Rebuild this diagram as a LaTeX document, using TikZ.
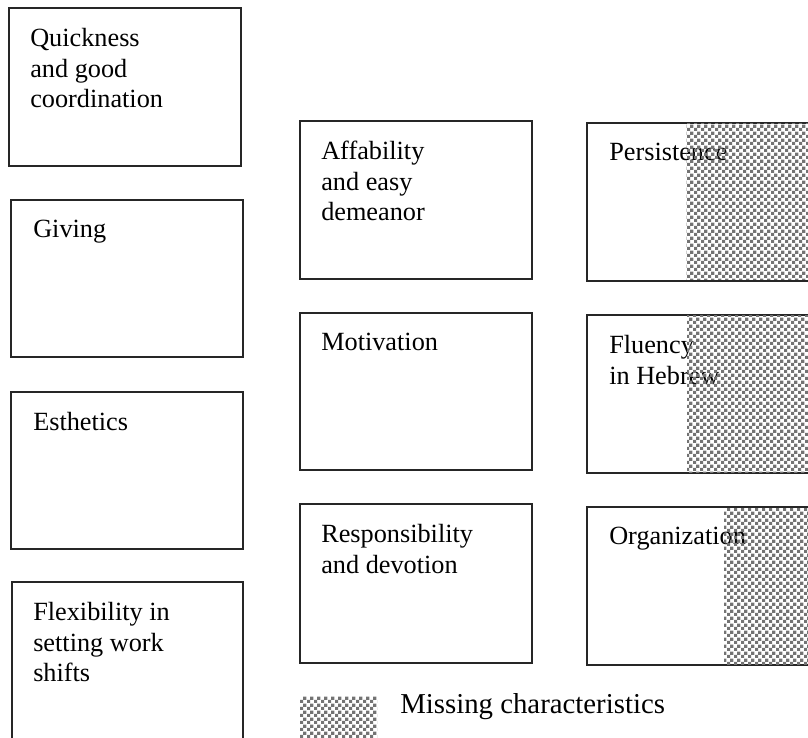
\documentclass[tikz,border=0pt]{standalone}
\usepackage{fontspec}
\setmainfont{Liberation Serif}
\usetikzlibrary{patterns}

\pgfdeclarepatternformonly{missing}{\pgfpointorigin}{\pgfqpoint{5pt}{5pt}}{\pgfqpoint{5pt}{5pt}}{%
	\pgfpathrectangle{\pgfpointorigin}{\pgfqpoint{2.5pt}{2.5pt}}%
	\pgfpathrectangle{\pgfqpoint{2.5pt}{2.5pt}}{\pgfqpoint{2.5pt}{2.5pt}}%
	\pgfusepath{fill}}

\tikzset{
	box/.style={line width=1.4pt, draw=black!85},
	txt/.style={anchor=north west, inner sep=0pt, align=left, font=\fontsize{19.7}{22.9}\selectfont},
	gap/.style={pattern=missing, pattern color=black!55}
}

\begin{document}
\begin{tikzpicture}[x=0.75pt, y=-0.75pt]
	
	\useasboundingbox (0,0) rectangle (808,738);
	\clip (0,0) rectangle (808,738);

	% left column
	\draw[box] (9,8) rectangle (241,166);
	\draw[box] (11,200) rectangle (243,357);
	\draw[box] (11,392) rectangle (243,549);
	\draw[box] (12,582) rectangle (243,760);

	\node[txt] (quick) at (30,28) {Quickness\\and good\\coordination};
	\node[txt] (giving) at (33,220) {Giving};
	\node[txt] (esth) at (33,412) {Esthetics};
	\node[txt] (flex) at (33,602) {Flexibility in\\setting work\\shifts};

	% middle column
	\draw[box] (300,121) rectangle (532,279);
	\draw[box] (300,313) rectangle (532,470);
	\draw[box] (300,504) rectangle (532,663);

	\node[txt] (affab) at (321,141) {Affability\\and easy\\demeanor};
	\node[txt] (motiv) at (321,333) {Motivation};
	\node[txt] (resp) at (321,524) {Responsibility\\and devotion};

	% right column
	\draw[box] (587,123) rectangle (830,281);
	\draw[box] (587,315) rectangle (830,473);
	\draw[box] (587,507) rectangle (830,665);

	\node[txt] (persist) at (609,143) {Persistence};
	\node[txt] (fluency) at (609,335) {Fluency\\in Hebrew};
	\node[txt] (organ) at (609,527) {Organization};

	% missing parts
	\fill[gap] (686,124) rectangle (830,280);
	\fill[gap] (687,316) rectangle (830,472);
	\fill[gap] (724,508) rectangle (830,664);

	% legend
	\fill[gap] (300,696) rectangle (377,740);
	\node[anchor=base west, inner sep=0pt, font=\fontsize{21.6}{24}\selectfont] (legend) at (400,713) {Missing characteristics};

\end{tikzpicture}
\end{document}
